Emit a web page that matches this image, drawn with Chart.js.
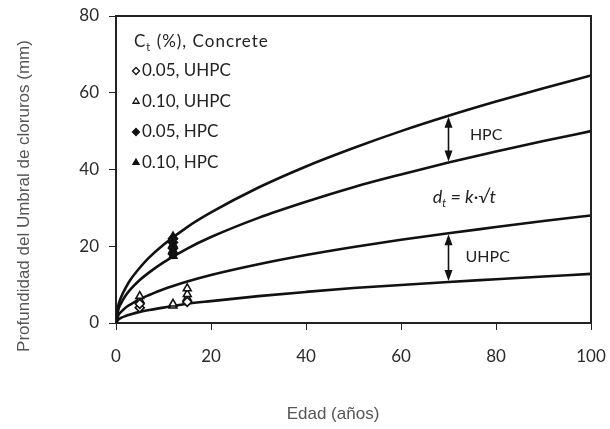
<!DOCTYPE html>
<html>
<head>
<meta charset="utf-8">
<script src="https://cdn.jsdelivr.net/npm/chart.js@4.4.0/dist/chart.umd.min.js"></script>
<style>
  html, body { margin: 0; padding: 0; background: #fff; }
  #wrap { width: 610px; height: 429px; }
</style>
</head>
<body>
<div id="wrap"><canvas id="grafico"></canvas></div>
<script>
// Edad (años) donde se leyeron las curvas d_t = k·√t
const edad = [0, 0.5, 1, 2, 3, 5, 7, 10, 15, 20, 30, 40, 50, 60, 70, 80, 90, 100];
// Curvas (mm)
const hpcSuperior = [0, 4.6, 6.5, 9.1, 11.2, 14.4, 17.1, 20.4, 25.0, 28.8, 35.3, 40.8, 45.6, 50.0, 54.0, 57.7, 61.2, 64.5];
const hpcInferior = [0, 3.5, 5.0, 7.1, 8.7, 11.2, 13.2, 15.8, 19.4, 22.4, 27.4, 31.6, 35.4, 38.7, 41.8, 44.7, 47.4, 50.0];
const uhpcSuperior = [0, 2.0, 2.8, 4.0, 4.8, 6.2, 7.3, 8.8, 10.8, 12.5, 15.3, 17.7, 19.8, 21.7, 23.4, 25.0, 26.6, 28.0];
const uhpcInferior = [0, 0.9, 1.3, 1.8, 2.2, 2.9, 3.4, 4.0, 5.0, 5.7, 7.0, 8.1, 9.1, 9.9, 10.7, 11.4, 12.1, 12.8];

// Datos medidos
const uhpc005Edad = [5, 5, 15];
const uhpc005Prof = [4.0, 5.0, 5.5];
const uhpc010Edad = [5, 5, 12, 12, 15, 15, 15];
const uhpc010Prof = [6.0, 7.0, 4.5, 5.0, 6.5, 7.5, 9.0];
const hpc005Edad = [12, 12, 12, 12];
const hpc005Prof = [18.0, 19.5, 21.0, 22.0];
const hpc010Edad = [12, 12, 12, 12];
const hpc010Prof = [17.5, 19.0, 20.5, 22.5];

const xTicks = [0, 20, 40, 60, 80, 100];
const yTicks = [0, 20, 40, 60, 80];

const tituloX = 'Edad (años)';
const tituloY = 'Profundidad del Umbral de cloruros (mm)';
const leyendaItems = ['0.05, UHPC', '0.10, UHPC', '0.05, HPC', '0.10, HPC'];
const flechaEdad = 70;

function puntos(xs, ys) {
    return xs.map((x, i) => ({ x: x, y: ys[i] }));
}

function curva(ys) {
    return {
        type: 'line',
        data: puntos(edad, ys),
        borderColor: '#111',
        borderWidth: 2.6,
        pointRadius: 0,
        cubicInterpolationMode: 'monotone',
        order: 2
    };
}

function marcador(xs, ys, estilo, relleno) {
    return {
        type: 'scatter',
        data: puntos(xs, ys),
        pointStyle: estilo,
        pointRadius: 4.5,
        pointBorderWidth: 1.6,
        borderColor: '#111',
        backgroundColor: relleno ? '#111' : '#fff',
        order: 1
    };
}

// Marco, titulos, leyenda y anotaciones
const extras = {
    id: 'extras',
    afterDatasetsDraw(chart) {
        const ctx = chart.ctx;
        const a = chart.chartArea;
        const xs = chart.scales.x;
        const ys = chart.scales.y;

        ctx.save();
        ctx.strokeStyle = '#222';
        ctx.lineWidth = 2;
        ctx.beginPath();
        ctx.moveTo(a.left, a.top);
        ctx.lineTo(a.right, a.top);
        ctx.lineTo(a.right, a.bottom);
        ctx.stroke();

        // titulos de ejes
        ctx.fillStyle = '#555';
        ctx.textAlign = 'center';
        ctx.textBaseline = 'middle';
        ctx.font = '17px "Liberation Sans"';
        ctx.fillText(tituloX, 333, 414);
        ctx.save();
        ctx.translate(24, 196);
        ctx.rotate(-Math.PI / 2);
        ctx.fillText(tituloY, 0, 0);
        ctx.restore();
        ctx.textAlign = 'left';

        // leyenda
        ctx.fillStyle = '#222';
        ctx.letterSpacing = '1px';
        ctx.font = '17px Lato';
        ctx.fillText('C', a.left + 18, 42);
        let w = ctx.measureText('C').width;
        ctx.font = '11px Lato';
        ctx.fillText('t', a.left + 18 + w, 47);
        let w2 = ctx.measureText('t').width;
        ctx.font = '17px Lato';
        ctx.fillText(' (%), Concrete', a.left + 18 + w + w2, 42);
        ctx.letterSpacing = '0px';

        const estilos = ['rectRot', 'triangle', 'rectRot', 'triangle'];
        const rellenos = [false, false, true, true];
        leyendaItems.forEach((txt, i) => {
            const y = 71 + i * 30.5;
            ctx.fillStyle = rellenos[i] ? '#111' : '#fff';
            ctx.strokeStyle = '#111';
            ctx.lineWidth = 1.3;
            Chart.helpers.drawPoint(ctx, { pointStyle: estilos[i], radius: 3.5, rotation: 0, borderWidth: 1.3 }, a.left + 20, y);
            ctx.fillStyle = '#222';
            ctx.font = '17px Lato';
            ctx.fillText(txt, a.left + 26, y);
        });

        // flechas dobles
        const idx = edad.indexOf(flechaEdad);
        const px = xs.getPixelForValue(flechaEdad);
        [[hpcSuperior, hpcInferior], [uhpcSuperior, uhpcInferior]].forEach(par => {
            const y1 = ys.getPixelForValue(par[0][idx]) + 1;
            const y2 = ys.getPixelForValue(par[1][idx]) - 1;
            ctx.strokeStyle = '#111';
            ctx.fillStyle = '#111';
            ctx.lineWidth = 1.6;
            ctx.beginPath();
            ctx.moveTo(px, y1 + 6);
            ctx.lineTo(px, y2 - 6);
            ctx.stroke();
            ctx.beginPath();
            ctx.moveTo(px, y1);
            ctx.lineTo(px - 4, y1 + 11);
            ctx.lineTo(px + 4, y1 + 11);
            ctx.closePath();
            ctx.fill();
            ctx.beginPath();
            ctx.moveTo(px, y2);
            ctx.lineTo(px - 4, y2 - 11);
            ctx.lineTo(px + 4, y2 - 11);
            ctx.closePath();
            ctx.fill();
        });

        ctx.fillStyle = '#222';
        ctx.font = '16px Lato';
        ctx.fillText('HPC', xs.getPixelForValue(74.5), ys.getPixelForValue(49));
        ctx.fillText('UHPC', xs.getPixelForValue(73.6), ys.getPixelForValue(17.2));

        // d_t = k·√t
        let x0 = xs.getPixelForValue(66.7);
        const y0 = ys.getPixelForValue(32.8);
        ctx.font = 'italic 18px Lato';
        ctx.fillText('d', x0, y0);
        x0 += ctx.measureText('d').width;
        ctx.font = 'italic 11px Lato';
        ctx.fillText('t', x0, y0 + 6);
        x0 += ctx.measureText('t').width;
        ctx.font = 'italic 18px Lato';
        ctx.fillText(' = k\u00B7\u221At', x0, y0);
        ctx.restore();
    }
};

const ctx = document.getElementById('grafico').getContext('2d');
const grafico = new Chart(ctx, {
    data: {
        datasets: [
            curva(hpcSuperior),
            curva(hpcInferior),
            curva(uhpcSuperior),
            curva(uhpcInferior),
            marcador(uhpc005Edad, uhpc005Prof, 'rectRot', false),
            marcador(uhpc010Edad, uhpc010Prof, 'triangle', false),
            marcador(hpc005Edad, hpc005Prof, 'rectRot', true),
            marcador(hpc010Edad, hpc010Prof, 'triangle', true)
        ]
    },
    options: {
        responsive: true,
        maintainAspectRatio: false,
        animation: false,
        layout: { padding: { top: 16, right: 19, left: 0, bottom: 0 } },
        plugins: {
            legend: { display: false },
            tooltip: { enabled: false }
        },
        scales: {
            x: {
                type: 'linear',
                min: 0,
                max: 100,
                afterBuildTicks: s => { s.ticks = xTicks.map(v => ({ value: v })); },
                afterFit: s => { s.height = 106; s.paddingLeft = 0; s.paddingRight = 0; },
                grid: { drawOnChartArea: false, tickLength: 7, color: '#222', tickWidth: 1 },
                border: { display: true, color: '#222', width: 2 },
                ticks: { color: '#2a2a2a', padding: 16, font: { family: 'Lato', size: 17 }, maxRotation: 0 },
                title: { display: false }
            },
            y: {
                type: 'linear',
                min: 0,
                max: 80,
                afterBuildTicks: s => { s.ticks = yTicks.map(v => ({ value: v })); },
                afterFit: s => { s.width = 116; s.paddingTop = 0; s.paddingBottom = 0; },
                grid: { drawOnChartArea: false, tickLength: 7, color: '#222', tickWidth: 1 },
                border: { display: true, color: '#222', width: 2 },
                ticks: { color: '#2a2a2a', padding: 10, font: { family: 'Lato', size: 17 } },
                title: { display: false }
            }
        }
    },
    plugins: [extras]
});
</script>
</body>
</html>
